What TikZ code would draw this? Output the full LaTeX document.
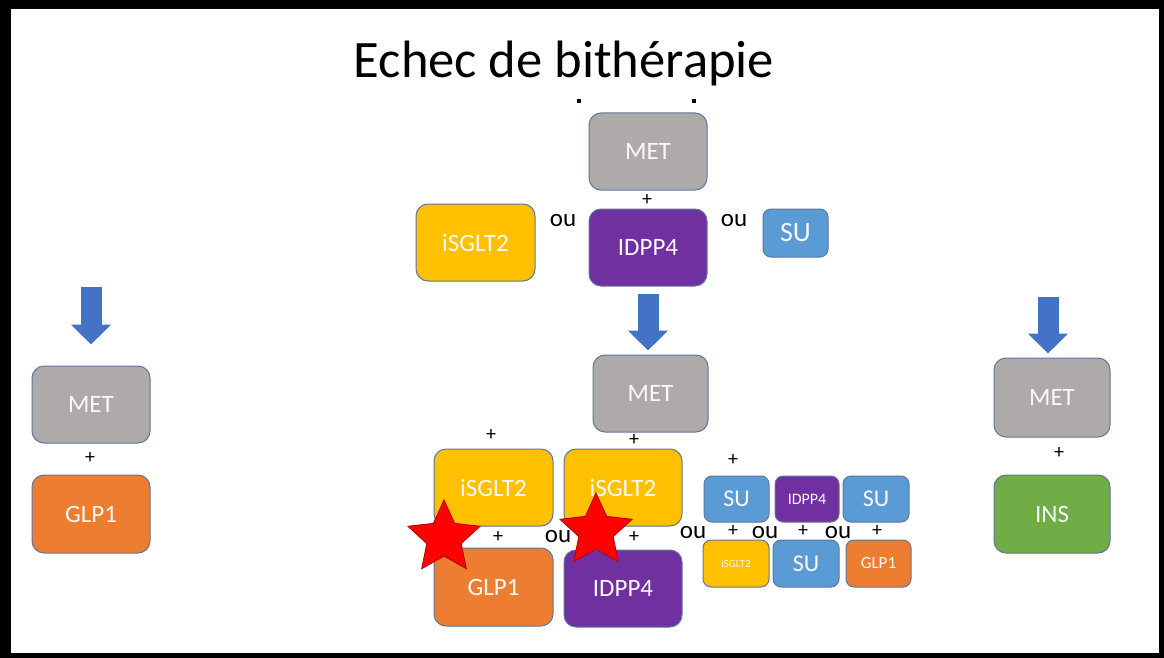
\documentclass[tikz,border=0pt]{standalone}
\usepackage{fontspec}
\setmainfont{Carlito}
\usetikzlibrary{shapes.geometric,arrows.meta}

\definecolor{metgray}{RGB}{174,170,170}
\definecolor{dpppurple}{RGB}{112,48,160}
\definecolor{sgltyellow}{RGB}{255,192,0}
\definecolor{sublue}{RGB}{91,155,213}
\definecolor{glporange}{RGB}{237,125,49}
\definecolor{insgreen}{RGB}{112,173,71}
\definecolor{arrowblue}{RGB}{68,114,196}
\definecolor{edgeblue}{RGB}{96,118,156}

\begin{document}
\begin{tikzpicture}[x=1pt,y=-1pt,
  drugbox/.style={draw=edgeblue, line width=1pt, rounded corners=12pt, text=white!95!gray,
    inner sep=0pt, minimum width=118pt, minimum height=77pt, font=\fontsize{25}{30}\selectfont},
  smallbox/.style={drugbox, rounded corners=8pt, minimum width=65pt, minimum height=47pt,
    font=\fontsize{24}{28}\selectfont},
  plussign/.style={inner sep=0pt, font=\fontsize{20}{22}\selectfont},
  orword/.style={inner sep=0pt, font=\fontsize{25}{30}\selectfont},
  bigarrow/.style={draw=arrowblue, line width=21pt, -{Triangle[width=39pt,length=20pt]}},
  redstar/.style={star, star points=5, star point ratio=2.1, fill=red, draw=red!70!black,
    line width=0.8pt, inner sep=0pt, minimum size=76pt}]

\fill[black] (0,0) rectangle (1164,658);
\fill[white] (11,9) rectangle (1159,653);
\useasboundingbox (0,0) rectangle (1164,658);

\node[anchor=base, font=\fontsize{52.6}{60}\selectfont] (title) at (564,78) {Echec de bithérapie};
\fill (577,99) rectangle (581,103);
\fill (692,99) rectangle (696,103);

% bitherapie actuelle
\node[drugbox, fill=metgray] (met1) at (648,151.5) {MET};
\node[plussign] (p1) at (647,200) {+};
\node[drugbox, fill=dpppurple] (idpp1) at (648,247.5) {IDPP4};
\node[drugbox, fill=sgltyellow, minimum width=119pt] (sglt1) at (475.5,242.5) {iSGLT2};
\node[orword] (ou1) at (563,221) {ou};
\node[orword] (ou2) at (734,221) {ou};
\node[smallbox, fill=sublue, minimum height=48pt, font=\fontsize{28}{32}\selectfont] (su1) at (795.5,233) {SU};

% tritherapie
\node[drugbox, fill=metgray, minimum width=115pt] (met2) at (650.5,393.5) {MET};
\node[plussign] (p2) at (491,435) {+};
\node[plussign] (p3) at (634,440) {+};
\node[drugbox, fill=sgltyellow, minimum width=119pt] (sglt2) at (493.5,487.5) {iSGLT2};
\node[drugbox, fill=sgltyellow] (sglt3) at (623,487.5) {iSGLT2};
\node[plussign] (p4) at (498,537) {+};
\node[orword] (ou3) at (558,537) {ou};
\node[plussign] (p5) at (634,537) {+};
\node[drugbox, fill=glporange, minimum width=119pt, minimum height=78pt] (glp2) at (493.5,587) {GLP1};
\node[drugbox, fill=dpppurple] (idpp2) at (623,588.5) {IDPP4};

\node[redstar] (star1) at (444,538) {};
\node[redstar] (star2) at (596,531) {};

% autres associations
\node[plussign] (p6) at (733,460) {+};
\node[smallbox, fill=sublue, minimum height=46pt] (su2) at (736.5,499) {SU};
\node[smallbox, fill=dpppurple, minimum width=64pt, minimum height=46pt,
  font=\fontsize{16}{18}\selectfont] (idpp3) at (807,499) {IDPP4};
\node[smallbox, fill=sublue, minimum width=66pt, minimum height=46pt] (su3) at (876,499) {SU};
\foreach \x/\txt/\nm in {693/ou/r1, 765/ou/r3, 838/ou/r5}
  \node[orword] (\nm) at (\x,533) {\txt};
\foreach \x/\nm in {733/r2, 803/r4, 877/r6}
  \node[plussign] (\nm) at (\x,531) {+};
\node[smallbox, fill=sgltyellow, minimum width=66pt, font=\fontsize{11}{13}\selectfont] (sglt4) at (736,563.5) {iSGLT2};
\node[smallbox, fill=sublue, minimum width=66pt] (su4) at (806,563.5) {SU};
\node[smallbox, fill=glporange, font=\fontsize{17}{20}\selectfont] (glp3) at (878.5,563.5) {GLP1};

% gauche
\node[drugbox, fill=metgray] (met3) at (91,404.5) {MET};
\node[plussign] (p7) at (90,458) {+};
\node[drugbox, fill=glporange, minimum height=78pt] (glp4) at (91,514) {GLP1};

% droite
\node[drugbox, fill=metgray, minimum width=116pt, minimum height=79pt] (met4) at (1052,397.5) {MET};
\node[plussign] (p8) at (1059,453) {+};
\node[drugbox, fill=insgreen, minimum width=116pt, minimum height=78pt] (ins) at (1052,514) {INS};

\coordinate (lefttop) at (91,287);
\coordinate (righttop) at (1048,297);
\draw[bigarrow] ([yshift=-7pt]idpp1.south) -- ([xshift=-2.5pt,yshift=4pt]met2.north);
\draw[bigarrow] (lefttop) -- ([yshift=21pt]met3.north);
\draw[bigarrow] (righttop) -- ([xshift=-4pt,yshift=4pt]met4.north);
\end{tikzpicture}
\end{document}
